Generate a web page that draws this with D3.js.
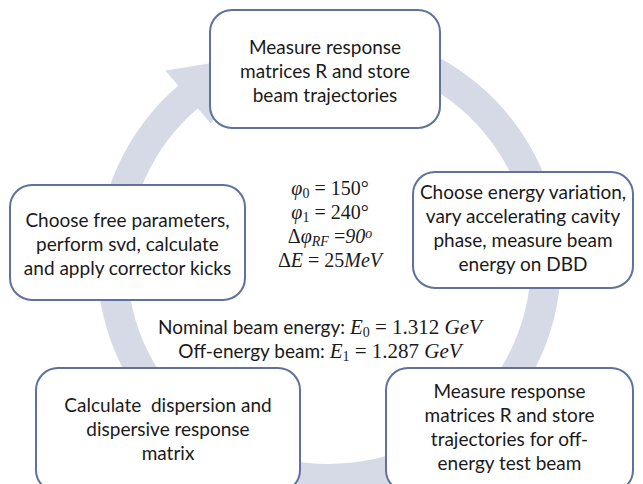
<!doctype html>
<html>
  <head>
    <meta charset="utf-8">
    <script src="https://cdn.jsdelivr.net/npm/d3@7/dist/d3.min.js"></script>
    <style>
      body { margin: 0; background: #fff; }
      .step { font-family: Lato, "Open Sans", sans-serif; font-size: 19px; fill: #1a1a1a; }
      .math { font-family: "Liberation Serif", "DejaVu Serif", serif; font-size: 20px; fill: #1a1a1a; }
      .note { font-family: Lato, "Open Sans", sans-serif; font-size: 19px; fill: #1a1a1a; }
    </style>
  </head>
  <body>
    <svg id="chart" width="643" height="484"></svg>
    <script>
      // step texts, clockwise from the top
      const steps = [
        ["Measure response", "matrices R and store", "beam trajectories"],
        ["Choose energy variation,", "vary accelerating cavity", "phase, measure beam", "energy on DBD"],
        ["Measure response", "matrices R and store", "trajectories for off-", "energy test beam"],
        ["Calculate  dispersion and", "dispersive response", "matrix"],
        ["Choose free parameters,", "perform svd, calculate", "and apply corrector kicks"]
      ];

      // parameter lines: [text, style] segments (i = italic, sub/sup = shifted)
      const params = [
        [["φ", "i"], ["0", "sub"], [" = 150°", ""]],
        [["φ", "i"], ["1", "sub"], [" = 240°", ""]],
        [["Δ", ""], ["φ", "i"], ["RF", "subi"], [" =", ""], ["90", "i"], ["o", "supi"]],
        [["Δ", ""], ["E", "i"], [" = 25", ""], ["MeV", "i"]]
      ];

      const energies = [
        [["Nominal beam energy: ", "txt"], ["E", "i"], ["0", "sub"], [" = 1.312 ", ""], ["GeV", "i"]],
        [["Off-energy beam: ", "txt"], ["E", "i"], ["1", "sub"], [" = 1.287 ", ""], ["GeV", "i"]]
      ];

      const svg = d3.select("#chart");

      // box layout (x, y, w, h) in same order as steps
      const boxes = [
        {x: 210, y: 10, w: 230, h: 118, ty: 70},
        {x: 413, y: 172, w: 220, h: 116, ty: 227},
        {x: 386, y: 368, w: 247, h: 124, ty: 426},
        {x: 36, y: 368, w: 264, h: 124, ty: 428},
        {x: 10, y: 185, w: 235, h: 115, ty: 243}
      ];

      const cx = 329, cy = 262, rOut = 232, rIn = 202;
      const rad = d => d * Math.PI / 180;

      const ring = svg.append("g").attr("transform", "translate(" + cx + "," + cy + ")");

      ring.append("path")
        .attr("d", d3.arc().innerRadius(rIn).outerRadius(rOut)
          .startAngle(rad(15)).endAngle(rad(320))())
        .style("fill", "#d6dae6");

      // arrow head at the end of the ring
      const pt = (r, a) => [r * Math.sin(rad(a)), -r * Math.cos(rad(a))];
      ring.append("path")
        .attr("d", d3.line()([pt(rOut + 20, 319.5), pt((rOut + rIn) / 2, 343), pt(rIn - 20, 319.5)]) + "Z")
        .style("fill", "#d6dae6");

      const lineH = 24;

      const g = svg.selectAll("g.box")
        .data(steps)
        .enter()
        .append("g")
        .attr("class", "box");

      g.append("rect")
        .attr("x", (d, i) => boxes[i].x)
        .attr("y", (d, i) => boxes[i].y)
        .attr("width", (d, i) => boxes[i].w)
        .attr("height", (d, i) => boxes[i].h)
        .attr("rx", 22)
        .style("fill", "white")
        .style("stroke", "#5f729c")
        .style("stroke-width", "2px");

      g.each(function(d, i) {
        const b = boxes[i];
        const top = b.ty - (d.length - 1) * lineH / 2;
        d3.select(this).selectAll("text")
          .data(d)
          .enter()
          .append("text")
          .attr("class", "step")
          .attr("x", b.x + b.w / 2)
          .attr("y", (t, j) => top + j * lineH)
          .attr("dominant-baseline", "central")
          .attr("text-anchor", "middle")
          .style("white-space", "pre")
          .text(t => t);
      });

      function mathLine(sel, segs) {
        segs.forEach(s => {
          const ts = sel.append("tspan").text(s[0]);
          if (s[1] === "txt") ts.attr("class", "note");
          if (s[1].indexOf("i") >= 0) ts.style("font-style", "italic");
          if (s[1].indexOf("sub") === 0) ts.attr("baseline-shift", "-20%").style("font-size", "14px");
          if (s[1].indexOf("sup") === 0) ts.attr("baseline-shift", "35%").style("font-size", "14px");
        });
        return sel;
      }

      svg.selectAll("text.param")
        .data(params)
        .enter()
        .append("text")
        .attr("class", "math param")
        .attr("x", 330)
        .attr("y", (d, i) => 195 + i * lineH)
        .attr("text-anchor", "middle")
        .style("white-space", "pre")
        .each(function(d) { mathLine(d3.select(this), d); });

      svg.selectAll("text.energy")
        .data(energies)
        .enter()
        .append("text")
        .attr("class", "math energy")
        .attr("x", 320)
        .attr("y", (d, i) => 334 + i * lineH)
        .attr("text-anchor", "middle")
        .style("font-size", "21px")
        .style("white-space", "pre")
        .each(function(d) { mathLine(d3.select(this), d); });
    </script>
  </body>
</html>
